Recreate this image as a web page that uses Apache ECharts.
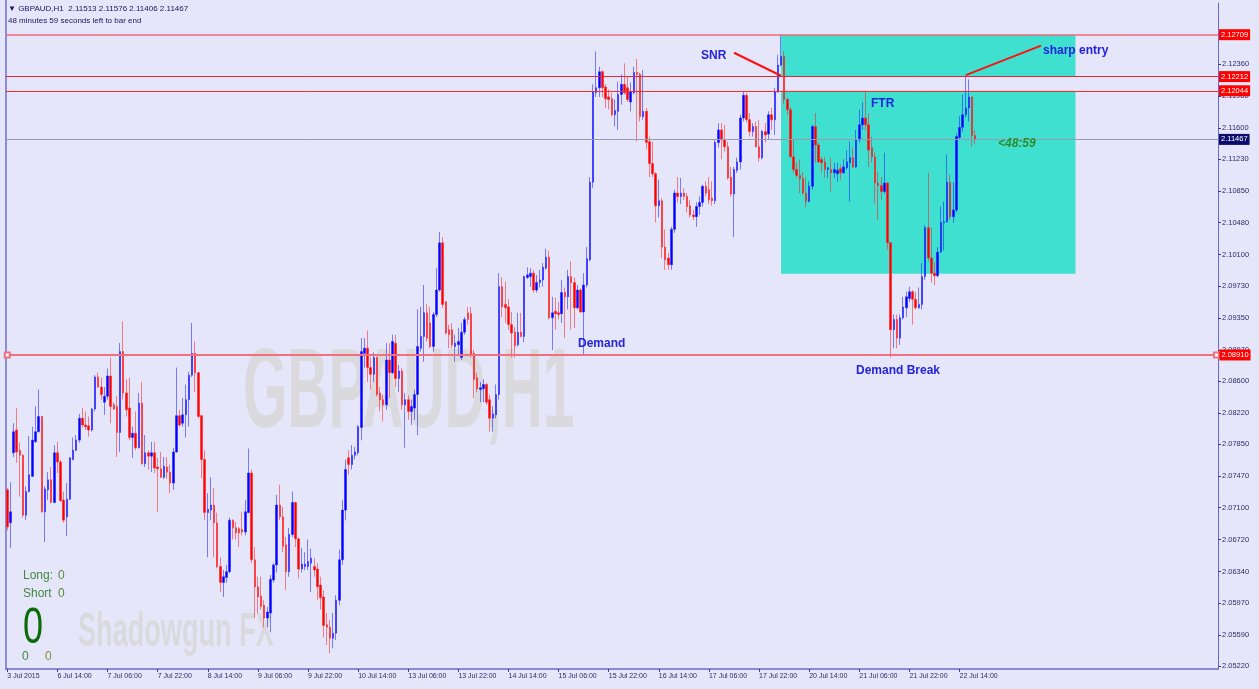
<!DOCTYPE html>
<html><head><meta charset="utf-8">
<script src="https://cdn.jsdelivr.net/npm/echarts@6/dist/echarts.min.js"></script>
<style>html,body{margin:0;padding:0;background:#e6e6fa;overflow:hidden}#c{width:1259px;height:689px}</style>
</head><body><div id="c"></div>
<script>
// ---- data ----
const tickLabels = ["3 Jul 2015","6 Jul 14:00","7 Jul 06:00","7 Jul 22:00","8 Jul 14:00","9 Jul 06:00","9 Jul 22:00","10 Jul 14:00","13 Jul 06:00","13 Jul 22:00","14 Jul 14:00","15 Jul 06:00","15 Jul 22:00","16 Jul 14:00","17 Jul 06:00","17 Jul 22:00","20 Jul 14:00","21 Jul 06:00","21 Jul 22:00","22 Jul 14:00"];
const yTicks = [2.05220,2.05590,2.05970,2.06340,2.06720,2.07100,2.07470,2.07850,2.08220,2.08600,2.08970,2.09350,2.09730,2.10100,2.10480,2.10850,2.11230,2.11600,2.11980,2.12360];
const slotCount = 387;
const opens = [
2.0731,2.0692,2.0775,2.0802,2.0778,2.0772,2.0701,2.0729,2.0747,2.0788,
2.0800,2.0818,2.0705,2.0731,2.0743,2.0716,2.0775,2.0764,2.0719,2.0699,
2.0720,2.0767,2.0778,2.0790,2.0816,2.0808,2.0807,2.0802,2.0827,2.0865,
2.0853,2.0835,2.0842,2.0866,2.0832,2.0830,2.0799,2.0895,2.0846,2.0828,
2.0793,2.0798,2.0781,2.0834,2.0762,2.0775,2.0771,2.0775,2.0758,2.0756,
2.0746,2.0758,2.0752,2.0739,2.0776,2.0819,2.0810,2.0820,2.0838,2.0867,
2.0893,2.0870,2.0819,2.0767,2.0704,2.0707,2.0713,2.0692,2.0640,2.0621,
2.0627,2.0634,2.0695,2.0686,2.0685,2.0684,2.0681,2.0704,2.0751,2.0648,
2.0616,2.0605,2.0594,2.0579,2.0585,2.0624,2.0642,2.0713,2.0699,2.0666,
2.0634,2.0678,2.0716,2.0673,2.0637,2.0640,2.0640,2.0644,2.0640,2.0637,
2.0618,2.0604,2.0571,2.0568,2.0555,2.0561,2.0600,2.0648,2.0707,2.0769,
2.0761,2.0772,2.0775,2.0805,2.0893,2.0899,2.0876,2.0868,2.0888,2.0846,
2.0838,2.0832,2.0885,2.0870,2.0905,2.0863,2.0872,2.0832,2.0838,2.0824,
2.0828,2.0844,2.0899,2.0913,2.0941,2.0929,2.0901,2.0939,2.0968,2.1024,
2.0954,2.0921,2.0921,2.0901,2.0903,2.0888,2.0918,2.0941,2.0940,2.0893,
2.0864,2.0850,2.0851,2.0856,2.0838,2.0816,2.0820,2.0844,2.0972,2.0951,
2.0948,2.0927,2.0918,2.0903,2.0918,2.0913,2.0983,2.0984,2.0988,2.0968,
2.0977,2.0980,2.0994,2.1007,2.0935,2.0943,2.0941,2.0940,2.0965,2.0960,
2.0984,2.0977,2.0947,2.0968,2.0942,2.0974,2.1004,2.1096,2.1202,2.1208,
2.1227,2.1209,2.1197,2.1195,2.1176,2.1180,2.1200,2.1212,2.1208,2.1191,
2.1202,2.1226,2.1224,2.1174,2.1180,2.1144,2.1118,2.1106,2.1068,2.1074,
2.1019,2.1006,2.0998,2.1040,2.1083,2.1079,2.1083,2.1079,2.1068,2.1057,
2.1055,2.1067,2.1072,2.1091,2.1087,2.1077,2.1074,2.1143,2.1158,2.1146,
2.1138,2.1102,2.1082,2.1110,2.1120,2.1172,2.1199,2.1170,2.1156,2.1162,
2.1138,2.1125,2.1156,2.1153,2.1176,2.1170,2.1203,2.1235,2.1245,2.1194,
2.1182,2.1126,2.1111,2.1104,2.1100,2.1083,2.1073,2.1091,2.1162,2.1140,
2.1123,2.1120,2.1111,2.1111,2.1107,2.1106,2.1112,2.1107,2.1113,2.1119,
2.1125,2.1114,2.1146,2.1164,2.1172,2.1164,2.1137,2.1126,2.1095,2.1092,
2.1085,2.1095,2.1024,2.0921,2.0933,2.0911,2.0935,2.0947,2.0958,2.0966,
2.0957,2.0947,2.0951,2.0984,2.1042,2.1006,2.0988,2.0985,2.1013,2.1048,
2.1049,2.1096,2.1055,2.1063,2.1149,2.1161,2.1176,2.1184,2.1197,2.11513];
const highs = [
2.0733,2.0740,2.0810,2.0828,2.0787,2.0773,2.0735,2.0795,2.0806,2.0830,
2.0850,2.0819,2.0735,2.0752,2.0758,2.0784,2.0788,2.0767,2.0729,2.0739,
2.0770,2.0793,2.0796,2.0821,2.0828,2.0824,2.0818,2.0828,2.0867,2.0870,
2.0864,2.0853,2.0875,2.0888,2.0835,2.0842,2.0905,2.0931,2.0862,2.0864,
2.0806,2.0824,2.0846,2.0859,2.0796,2.0778,2.0788,2.0788,2.0769,2.0776,
2.0770,2.0770,2.0761,2.0781,2.0876,2.0826,2.0840,2.0856,2.0871,2.0929,
2.0907,2.0871,2.0820,2.0778,2.0727,2.0746,2.0733,2.0704,2.0651,2.0636,
2.0642,2.0698,2.0696,2.0693,2.0687,2.0705,2.0719,2.0780,2.0755,2.0663,
2.0628,2.0628,2.0600,2.0592,2.0630,2.0644,2.0725,2.0737,2.0711,2.0675,
2.0686,2.0729,2.0717,2.0674,2.0662,2.0657,2.0672,2.0661,2.0650,2.0644,
2.0628,2.0612,2.0585,2.0577,2.0585,2.0606,2.0660,2.0719,2.0767,2.0778,
2.0784,2.0782,2.0808,2.0911,2.0911,2.0920,2.0888,2.0894,2.0889,2.0853,
2.0844,2.0905,2.0905,2.0915,2.0915,2.0879,2.0876,2.0846,2.0843,2.0838,
2.0850,2.0945,2.0948,2.0974,2.0951,2.0948,2.0942,2.0994,2.1037,2.1031,
2.0955,2.0927,2.0929,2.0915,2.0923,2.0929,2.0936,2.0948,2.0948,2.0897,
2.0870,2.0859,2.0862,2.0858,2.0844,2.0830,2.0856,2.0988,2.0983,2.0978,
2.0957,2.0942,2.0924,2.0941,2.0941,2.0985,2.0995,2.0994,2.0992,2.0986,
2.0992,2.1000,2.1017,2.1015,2.0960,2.0959,2.0954,2.0980,2.0971,2.0992,
2.1002,2.0983,2.0974,2.0970,2.0988,2.1019,2.1102,2.1212,2.1251,2.1233,
2.1229,2.1212,2.1206,2.1202,2.1194,2.1215,2.1224,2.1237,2.1221,2.1214,
2.1233,2.1242,2.1226,2.1229,2.1184,2.1150,2.1144,2.1108,2.1099,2.1077,
2.1040,2.1012,2.1043,2.1087,2.1102,2.1101,2.1089,2.1083,2.1075,2.1063,
2.1072,2.1079,2.1093,2.1097,2.1102,2.1097,2.1146,2.1166,2.1166,2.1164,
2.1144,2.1114,2.1114,2.1125,2.1176,2.1203,2.1202,2.1178,2.1166,2.1168,
2.1170,2.1158,2.1166,2.1180,2.1184,2.1208,2.1247,2.1271,2.1251,2.1196,
2.1185,2.1146,2.1119,2.1123,2.1108,2.1102,2.1097,2.1164,2.1178,2.1143,
2.1126,2.1126,2.1114,2.1125,2.1119,2.1119,2.1117,2.1123,2.1134,2.1144,
2.1137,2.1158,2.1182,2.1191,2.1204,2.1178,2.1150,2.1131,2.1108,2.1102,
2.1131,2.1096,2.1025,2.0939,2.0939,2.0939,2.0960,2.0966,2.0972,2.0968,
2.0966,2.0971,2.1000,2.1045,2.1107,2.1042,2.1001,2.1019,2.1067,2.1073,
2.1129,2.1105,2.1096,2.1154,2.1174,2.1200,2.1222,2.1218,2.1198,2.11576];
const lows = [
2.0683,2.0662,2.0770,2.0763,2.0723,2.0698,2.0695,2.0728,2.0746,2.0787,
2.0799,2.0704,2.0669,2.0719,2.0715,2.0715,2.0751,2.0717,2.0692,2.0676,
2.0719,2.0766,2.0777,2.0787,2.0805,2.0802,2.0794,2.0800,2.0824,2.0852,
2.0838,2.0820,2.0838,2.0810,2.0826,2.0770,2.0776,2.0838,2.0818,2.0790,
2.0769,2.0778,2.0780,2.0761,2.0758,2.0755,2.0752,2.0751,2.0705,2.0745,
2.0744,2.0744,2.0727,2.0731,2.0775,2.0806,2.0806,2.0793,2.0806,2.0865,
2.0847,2.0816,2.0745,2.0695,2.0651,2.0695,2.0651,2.0638,2.0610,2.0604,
2.0621,2.0632,2.0672,2.0672,2.0663,2.0677,2.0677,2.0703,2.0644,2.0579,
2.0585,2.0589,2.0568,2.0568,2.0562,2.0621,2.0633,2.0695,2.0657,2.0612,
2.0628,2.0675,2.0663,2.0626,2.0633,2.0636,2.0636,2.0610,2.0628,2.0600,
2.0589,2.0556,2.0547,2.0537,2.0543,2.0553,2.0594,2.0642,2.0695,2.0749,
2.0755,2.0767,2.0772,2.0790,2.0876,2.0859,2.0850,2.0859,2.0842,2.0824,
2.0812,2.0826,2.0840,2.0868,2.0853,2.0847,2.0826,2.0781,2.0814,2.0808,
2.0814,2.0796,2.0895,2.0883,2.0907,2.0899,2.0895,2.0936,2.0966,2.0947,
2.0915,2.0899,2.0899,2.0883,2.0891,2.0885,2.0915,2.0927,2.0888,2.0840,
2.0847,2.0835,2.0835,2.0832,2.0800,2.0800,2.0816,2.0838,2.0936,2.0929,
2.0921,2.0888,2.0888,2.0901,2.0912,2.0906,2.0981,2.0972,2.0965,2.0965,
2.0971,2.0972,2.0992,2.0933,2.0897,2.0921,2.0933,2.0929,2.0911,2.0945,
2.0921,2.0923,2.0945,2.0941,2.0891,2.0971,2.1002,2.1089,2.1197,2.1197,
2.1197,2.1184,2.1182,2.1174,2.1162,2.1158,2.1188,2.1200,2.1191,2.1180,
2.1200,2.1144,2.1168,2.1170,2.1135,2.1102,2.1102,2.1048,2.1054,2.1006,
2.0992,2.0992,2.0992,2.1036,2.1072,2.1070,2.1075,2.1060,2.1054,2.1051,
2.1043,2.1057,2.1067,2.1079,2.1070,2.1068,2.1070,2.1137,2.1123,2.1132,
2.1099,2.1079,2.1031,2.1107,2.1111,2.1168,2.1167,2.1150,2.1150,2.1137,
2.1120,2.1123,2.1143,2.1146,2.1158,2.1152,2.1202,2.1233,2.1188,2.1176,
2.1125,2.1107,2.1101,2.1083,2.1081,2.1066,2.1072,2.1087,2.1119,2.1119,
2.1107,2.1101,2.1101,2.1085,2.1101,2.1097,2.1099,2.1106,2.1111,2.1073,
2.1113,2.1113,2.1143,2.1158,2.1158,2.1114,2.1119,2.1071,2.1051,2.1075,
2.1082,2.1016,2.0888,2.0899,2.0899,2.0903,2.0933,2.0936,2.0954,2.0927,
2.0945,2.0946,2.0945,2.0980,2.1002,2.0977,2.0974,2.0983,2.1012,2.1015,
2.1048,2.1051,2.1048,2.1060,2.1146,2.1156,2.1173,2.1168,2.1138,2.11406];
const closes = [
2.0687,2.0705,2.0800,2.0776,2.0772,2.0701,2.0729,2.0749,2.0790,2.0800,
2.0818,2.0705,2.0732,2.0743,2.0716,2.0775,2.0764,2.0718,2.0695,2.0720,
2.0769,2.0778,2.0790,2.0816,2.0808,2.0806,2.0802,2.0827,2.0865,2.0853,
2.0844,2.0842,2.0866,2.0830,2.0827,2.0799,2.0895,2.0846,2.0826,2.0793,
2.0798,2.0781,2.0834,2.0762,2.0775,2.0771,2.0775,2.0757,2.0756,2.0746,
2.0759,2.0752,2.0739,2.0776,2.0819,2.0808,2.0820,2.0838,2.0867,2.0893,
2.0870,2.0818,2.0767,2.0704,2.0708,2.0713,2.0692,2.0640,2.0621,2.0628,
2.0634,2.0695,2.0686,2.0680,2.0680,2.0681,2.0705,2.0751,2.0648,2.0616,
2.0604,2.0593,2.0579,2.0586,2.0625,2.0642,2.0713,2.0699,2.0664,2.0634,
2.0678,2.0716,2.0673,2.0637,2.0643,2.0643,2.0646,2.0650,2.0636,2.0616,
2.0603,2.0570,2.0568,2.0555,2.0561,2.0600,2.0648,2.0707,2.0755,2.0761,
2.0772,2.0776,2.0806,2.0895,2.0899,2.0876,2.0868,2.0888,2.0844,2.0838,
2.0832,2.0885,2.0870,2.0907,2.0863,2.0872,2.0832,2.0838,2.0824,2.0830,
2.0844,2.0901,2.0913,2.0941,2.0911,2.0901,2.0939,2.0968,2.1024,2.0951,
2.0917,2.0915,2.0903,2.0905,2.0907,2.0918,2.0933,2.0933,2.0891,2.0862,
2.0851,2.0852,2.0856,2.0835,2.0816,2.0821,2.0844,2.0972,2.0948,2.0947,
2.0927,2.0917,2.0902,2.0918,2.0913,2.0984,2.0986,2.0988,2.0968,2.0977,
2.0980,2.0995,2.1007,2.0935,2.0941,2.0940,2.0939,2.0965,2.0960,2.0984,
2.0977,2.0947,2.0968,2.0942,2.0974,2.1005,2.1096,2.1203,2.1208,2.1227,
2.1208,2.1195,2.1194,2.1176,2.1181,2.1200,2.1212,2.1202,2.1194,2.1203,
2.1226,2.1224,2.1174,2.1180,2.1143,2.1118,2.1106,2.1068,2.1074,2.1019,
2.1004,2.0998,2.1040,2.1083,2.1079,2.1083,2.1079,2.1067,2.1057,2.1055,
2.1067,2.1072,2.1091,2.1083,2.1075,2.1074,2.1143,2.1158,2.1146,2.1138,
2.1101,2.1082,2.1111,2.1120,2.1172,2.1199,2.1170,2.1156,2.1162,2.1138,
2.1125,2.1156,2.1152,2.1176,2.1170,2.1203,2.1235,2.1245,2.1194,2.1182,
2.1126,2.1111,2.1104,2.1100,2.1083,2.1073,2.1091,2.1162,2.1140,2.1120,
2.1119,2.1111,2.1113,2.1107,2.1111,2.1110,2.1107,2.1114,2.1120,2.1125,
2.1114,2.1146,2.1164,2.1172,2.1164,2.1134,2.1126,2.1095,2.1092,2.1085,
2.1095,2.1024,2.0921,2.0933,2.0911,2.0935,2.0948,2.0960,2.0966,2.0957,
2.0947,2.0951,2.0984,2.1042,2.1006,2.0988,2.0985,2.1013,2.1048,2.1049,
2.1096,2.1055,2.1063,2.1150,2.1161,2.1176,2.1184,2.1197,2.1151,2.11467];
const redLevels = [2.12709, 2.12212, 2.12044];
const demandLevel = 2.08910;
const bidLevel = 2.11467;
const zoneBars = [247, 341];
const zoneUpper = [2.12709, 2.12212];
const zoneLower = [2.12044, 2.09873];
const snrLine = [[232, 2.12495], [247, 2.12222]];
const entryLine = [[306, 2.12230], [330, 2.12580]];

// ---- chart ----
const FONT = '"Liberation Sans", Arial, sans-serif';
const chart = echarts.init(document.getElementById('c'), null, {width:1259, height:689});
const candles = opens.map((o, i) => [o, closes[i], lows[i], highs[i]]);
const categories = Array.from({length: slotCount}, (_, i) => 'b' + i);
const isTick = (i) => i % 16 === 0 && (i / 16) < tickLabels.length;
const last = opens.length - 1;

function tag(level, bg, dist) {
  return {show:true, position:'end', distance:dist, formatter: level.toFixed(5),
    backgroundColor:bg, color:'#ffffff', fontSize:7.5, fontFamily:FONT,
    padding:[2,2,1,2], lineHeight:8};
}
const redLineStyles = [
  {color:'#f06a78', width:1.5, type:'solid'},
  {color:'#e0283c', width:1, type:'solid'},
  {color:'#ff2a2a', width:1, type:'solid'}
];
const levelMarks = redLevels.map((lv, k) => ({
  yAxis: lv, lineStyle: redLineStyles[k], label: tag(lv, '#ff0000', 1)
}));
levelMarks.push({yAxis: bidLevel, lineStyle:{color:'#9a9aae', width:1, type:'solid'}, label: tag(bidLevel, '#0c0c6c', 1)});
const demandStyle = {color:'#f07080', width:2, type:'solid'};
levelMarks.push([
  {xAxis:0, yAxis:demandLevel, symbol:'emptyRect', symbolSize:5, lineStyle:demandStyle, label: tag(demandLevel, '#ff0000', 3)},
  {xAxis:slotCount - 1, yAxis:demandLevel, symbol:'emptyRect', symbolSize:5, lineStyle:demandStyle, label: tag(demandLevel, '#ff0000', 3)}
]);
const trendStyle = {color:'#ff1010', width:2, type:'solid'};
[snrLine, entryLine].forEach(l => levelMarks.push([
  {coord:l[0], lineStyle:trendStyle, label:{show:false}},
  {coord:l[1], lineStyle:trendStyle, label:{show:false}}
]));

function txt(x, y, text, font, fill, extra) {
  return Object.assign({type:'text', x:x, y:y, z:60, silent:true,
    style:{text:text, x:0, y:0, font:font, fill:fill, align:'left', verticalAlign:'middle', textAlign:'left', textVerticalAlign:'middle'}}, extra || {});
}
const blueFont = 'bold 12px ' + FONT;
const blue = '#2323dc';
const hdr = 'GBPAUD,H1  ' + [opens[last], highs[last], lows[last], closes[last]].map(v => v.toFixed(5)).join(' ');

const option = {
  animation:false,
  backgroundColor:'#e6e6fa',
  grid:{left:5.73, top:3, width:slotCount * 3.1325, bottom:20, containLabel:false},
  xAxis:{
    type:'category', data:categories, boundaryGap:true,
    axisLine:{show:true, lineStyle:{color:'#6a6ac8', width:1.5}},
    axisTick:{show:true, alignWithLabel:true, interval:(i) => isTick(i), length:3, lineStyle:{color:'#3c3c90'}},
    axisLabel:{show:true, interval:(i) => isTick(i), formatter:(v, i) => tickLabels[i / 16] || '',
      align:'left', fontSize:7, fontFamily:FONT, color:'#2c2c68', margin:4},
    splitLine:{show:false}
  },
  yAxis:{
    type:'value', position:'right', min:2.05185, max:2.13085,
    splitLine:{show:false},
    axisLine:{show:true, lineStyle:{color:'#6a6ac8', width:1}},
    axisTick:{show:true, length:3, customValues:yTicks, lineStyle:{color:'#3c3c90'}},
    axisLabel:{show:true, customValues:yTicks, formatter:(v) => v.toFixed(5), fontSize:7.5, fontFamily:FONT, color:'#2c2c68', margin:4}
  },
  series:[
    {type:'line', data:[], z:1, silent:true, symbol:'none',
      markArea:{silent:true, itemStyle:{color:'#40e0d0', opacity:1, borderWidth:0},
        data:[
          [{xAxis:zoneBars[0], yAxis:zoneUpper[0]}, {xAxis:zoneBars[1], yAxis:zoneUpper[1]}],
          [{xAxis:zoneBars[0], yAxis:zoneLower[0]}, {xAxis:zoneBars[1], yAxis:zoneLower[1]}]
        ]}},
    {type:'line', data:[], z:2, silent:true, symbol:'none',
      markLine:{silent:true, precision:5, symbol:['none','none'], animation:false, data:levelMarks}},
    {type:'candlestick', z:3, silent:true, data:candles, barWidth:2,
      itemStyle:{color:'#0000ff', color0:'#ff0000', borderColor:'rgba(30,30,255,0.55)', borderColor0:'rgba(255,30,30,0.55)', borderColorDoji:'rgba(30,30,255,0.55)', borderWidth:1},
      emphasis:{disabled:true}}
  ],
  graphic:[
    {type:'line', z:0, silent:true, shape:{x1:6, y1:0, x2:6, y2:669}, style:{stroke:'#8c8cdc', lineWidth:2}},
    txt(243, 396, 'GBPAUD,H1', 'bold 114px ' + FONT, '#dadade', {scaleX:0.5, z:0}),
    txt(78, 633, 'Shadowgun FX', 'bold 48px ' + FONT, '#dadade', {scaleX:0.565, z:0}),
    txt(8, 9, '\u25BC ' + hdr, '8px ' + FONT, '#16165c'),
    txt(8, 21, '48 minutes 59 seconds left to bar end', '8px ' + FONT, '#16165c'),
    txt(701, 56, 'SNR', blueFont, blue),
    txt(1043, 51, 'sharp entry', blueFont, blue),
    txt(871, 104, 'FTR', blueFont, blue),
    txt(578, 344, 'Demand', blueFont, blue),
    txt(856, 371, 'Demand Break', blueFont, blue),
    txt(998, 144, '<48:59', 'italic bold 12px ' + FONT, '#2e8b2e'),
    txt(23, 576, 'Long:', '12px ' + FONT, '#3f8a3f'),
    txt(58, 576, '0', '12px ' + FONT, '#5a8a3a'),
    txt(23, 594, 'Short', '12px ' + FONT, '#3f8a3f'),
    txt(58, 594, '0', '12px ' + FONT, '#5a8a3a'),
    txt(23, 629, '0', '50px ' + FONT, '#0b6b0b', {scaleX:0.72}),
    txt(22, 657, '0', '12px ' + FONT, '#3f8a3f'),
    txt(45, 657, '0', '12px ' + FONT, '#8a8a30')
  ]
};
chart.setOption(option);
</script>
</body></html>
